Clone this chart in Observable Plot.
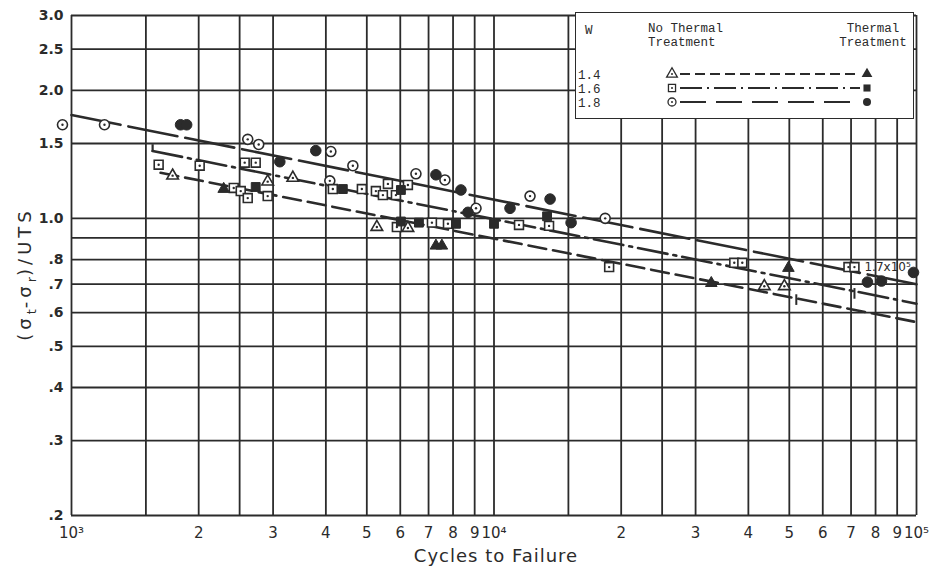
<!DOCTYPE html>
<html><head><meta charset="utf-8">
<script src="https://cdn.jsdelivr.net/npm/d3@7"></script>
<script src="https://cdn.jsdelivr.net/npm/@observablehq/plot@0.6"></script>
<style>
body{margin:0;background:#fff;}
#wrap{position:relative;width:934px;height:566px;font-family:"DejaVu Sans",sans-serif;color:#2b2b2b;overflow:hidden;}
#ylab{position:absolute;left:-75px;top:262px;width:200px;height:24px;line-height:24px;text-align:center;transform:rotate(-90deg);font-size:18px;letter-spacing:4px;white-space:nowrap;}
#ylab sub{font-size:13px;letter-spacing:1px;}
#xlab{position:absolute;left:396px;top:545px;width:200px;text-align:center;font-size:18px;letter-spacing:1px;white-space:nowrap;}
#legend{position:absolute;left:575px;top:12px;width:339px;height:107px;background:#fff;border:1.8px solid #2b2b2b;box-sizing:border-box;}
</style>
</head><body>
<div id="wrap">
  <div id="plot"></div>
  <div id="legend"></div>
  <div id="ylab">(σ<sub>t</sub>-σ<sub>r</sub>)/UTS</div>
  <div id="xlab">Cycles to Failure</div>
</div>
<script>
const ink = "#2b2b2b";

// axis ticks and grid
const xTickValues = [1000,2000,3000,4000,5000,6000,7000,8000,9000,10000,20000,30000,40000,50000,60000,70000,80000,90000,100000];
const xTickLabels = ["10³","2","3","4","5","6","7","8","9","10⁴","2","3","4","5","6","7","8","9","10⁵"];
const xGrid = [1000,1500,2000,2500,3000,4000,5000,6000,7000,8000,9000,10000,15000,20000,25000,30000,40000,50000,60000,70000,80000,90000,100000];
const yTickValues = [3.0,2.5,2.0,1.5,1.0,0.8,0.7,0.6,0.5,0.4,0.3,0.2];
const yTickLabels = ["3.0","2.5","2.0","1.5","1.0",".8",".7",".6",".5",".4",".3",".2"];
const yGrid = [3.0,2.5,2.0,1.5,1.0,0.9,0.8,0.7,0.6,0.5,0.4,0.3,0.2];

// data: [cycles to failure, (σt-σr)/UTS]
// W = 1.4
const openTri14 = [[1735,1.26],[2913,1.22],[3341,1.245],[5281,0.954],[6255,0.949],[43630,0.692],[48670,0.692]];
const filledTri14 = [[2292,1.172],[7287,0.862],[7527,0.862],[32680,0.704],[49750,0.764]];
// W = 1.6
const openSq16 = [[1608,1.337],[2011,1.33],[2570,1.352],[2729,1.352],[2421,1.179],[2515,1.159],[2613,1.116],[2913,1.128],[4155,1.172],[4867,1.172],[5253,1.159],[5458,1.134],[5609,1.205],[5859,1.134],[6255,1.198],[5890,0.954],[7130,0.977],[7780,0.971],[11460,0.965],[13500,0.96],[18730,0.768],[37040,0.786],[38700,0.786],[69020,0.768],[71310,0.768]];
const filledSq16 = [[2729,1.185],[4387,1.172],[6021,1.166],[6021,0.983],[6642,0.977],[8128,0.971],[10000,0.971],[13355,1.011]];
// W = 1.8
const openCirc18 = [[952,1.66],[1197,1.66],[2613,1.534],[2774,1.492],[4110,1.436],[4634,1.33],[4087,1.225],[6535,1.273],[7652,1.231],[9066,1.056],[12170,1.128],[18330,1.0]];
const filledCirc18 = [[1812,1.66],[1873,1.66],[3112,1.359],[3786,1.443],[7287,1.266],[8351,1.166],[8678,1.033],[10912,1.056],[13575,1.11],[15222,0.977],[76540,0.708],[82620,0.712],[98370,0.746]];

// fitted lines
const fit14 = [[1625,1.28],[100000,0.57]];
const fit16 = [[1556,1.44],[100000,0.63]];
const fit18 = [[1000,1.75],[100000,0.70]];
const hook16 = [[1556,1.43,1.49]];
const runouts = [[51940,0.644],[71310,0.666]];
const annotation = [[75300,0.764,"1.7x10⁵"]];

const yLab = new Map(yTickValues.map((v,i)=>[v,yTickLabels[i]]));

const vbar = {draw(ctx, size){ const h = Math.sqrt(size)/2; ctx.moveTo(0,-h); ctx.lineTo(0,h); }};

const px = d => d[0], py = d => d[1];
function openMarks(data, symbol, r){
  return [
    Plot.dot(data, {x:px, y:py, symbol, r, fill:"white", stroke:ink, strokeWidth:1.6}),
    Plot.dot(data, {x:px, y:py, r:1.2, fill:ink})
  ];
}
function filledMarks(data, symbol, r){
  return Plot.dot(data, {x:px, y:py, symbol, r, fill:ink, stroke:ink, strokeWidth:1});
}

const chart = Plot.plot({
  width: 934, height: 566,
  marginTop: 15, marginRight: 18, marginBottom: 51, marginLeft: 71,
  style: {background:"white", color: ink, fontFamily:"DejaVu Sans, sans-serif"},
  x: {type:"log", domain:[1000,100000], axis:null},
  y: {type:"log", domain:[0.2,3.0]},
  marks: [
    Plot.ruleX(xGrid, {stroke:ink, strokeWidth:1.8}),
    Plot.ruleY(yGrid, {stroke:ink, strokeWidth:1.8}),
    Plot.text(xTickValues, {x:d=>d, text:(d,i)=>xTickLabels[i], frameAnchor:"bottom", dy:22, fontSize:15, fill:ink}),
    Plot.axisY({ticks:yTickValues, tickFormat:d=>yLab.get(d), tickSize:0, tickPadding:8, fontSize:14, fontWeight:"bold", label:null}),
    Plot.line(fit18, {x:px, y:py, stroke:ink, strokeWidth:2.6, strokeDasharray:"50,8"}),
    Plot.line(fit16, {x:px, y:py, stroke:ink, strokeWidth:2.6, strokeDasharray:"30,6,3,6"}),
    Plot.line(fit14, {x:px, y:py, stroke:ink, strokeWidth:2.6, strokeDasharray:"18,7"}),
    Plot.ruleX(hook16, {x:d=>d[0], y1:d=>d[1], y2:d=>d[2], stroke:ink, strokeWidth:2.2}),
    Plot.dot(runouts, {x:px, y:py, symbol:vbar, r:6, stroke:ink, strokeWidth:2}),
    ...openMarks(openCirc18, "circle", 5),
    filledMarks(filledCirc18, "circle", 5.3),
    ...openMarks(openSq16, "square", 5),
    filledMarks(filledSq16, "square", 5),
    ...openMarks(openTri14, "triangle", 4.3),
    filledMarks(filledTri14, "triangle", 4.3),
    Plot.text(annotation, {x:px, y:py, text:d=>d[2], textAnchor:"start", fontSize:12, fill:ink, dy:-1})
  ]
});
document.getElementById("plot").appendChild(chart);

// legend (inside plot, top right)
const leg = d3.select("#legend").append("svg").attr("width",336).attr("height",104)
  .style("font-family","'Liberation Mono','DejaVu Sans Mono',monospace").style("font-size","12.5px").attr("fill",ink);
leg.append("text").attr("x",9).attr("y",21).text("W");
leg.append("text").attr("x",72).attr("y",19).text("No Thermal");
leg.append("text").attr("x",72).attr("y",33).text("Treatment");
leg.append("text").attr("x",297).attr("y",19).attr("text-anchor","middle").text("Thermal");
leg.append("text").attr("x",297).attr("y",33).attr("text-anchor","middle").text("Treatment");
const legRows = [
  {w:"1.4", sym:d3.symbolTriangle, dash:"10,5", y:61},
  {w:"1.6", sym:d3.symbolSquare, dash:"22,5,2,5", y:75},
  {w:"1.8", sym:d3.symbolCircle, dash:"26,10", y:89}
];
legRows.forEach(r=>{
  leg.append("text").attr("x",2).attr("y",r.y+5).text(r.w);
  leg.append("line").attr("x1",104).attr("x2",284).attr("y1",r.y).attr("y2",r.y)
    .attr("stroke",ink).attr("stroke-width",1.8).attr("stroke-dasharray",r.dash);
  const s = d3.symbol(r.sym, Math.PI*16)();
  leg.append("path").attr("d",s).attr("transform",`translate(96,${r.y})`).attr("fill","white").attr("stroke",ink).attr("stroke-width",1.3);
  leg.append("circle").attr("cx",96).attr("cy",r.y).attr("r",1).attr("fill",ink);
  leg.append("path").attr("d",s).attr("transform",`translate(291,${r.y})`).attr("fill",ink);
});
</script>
</body></html>
